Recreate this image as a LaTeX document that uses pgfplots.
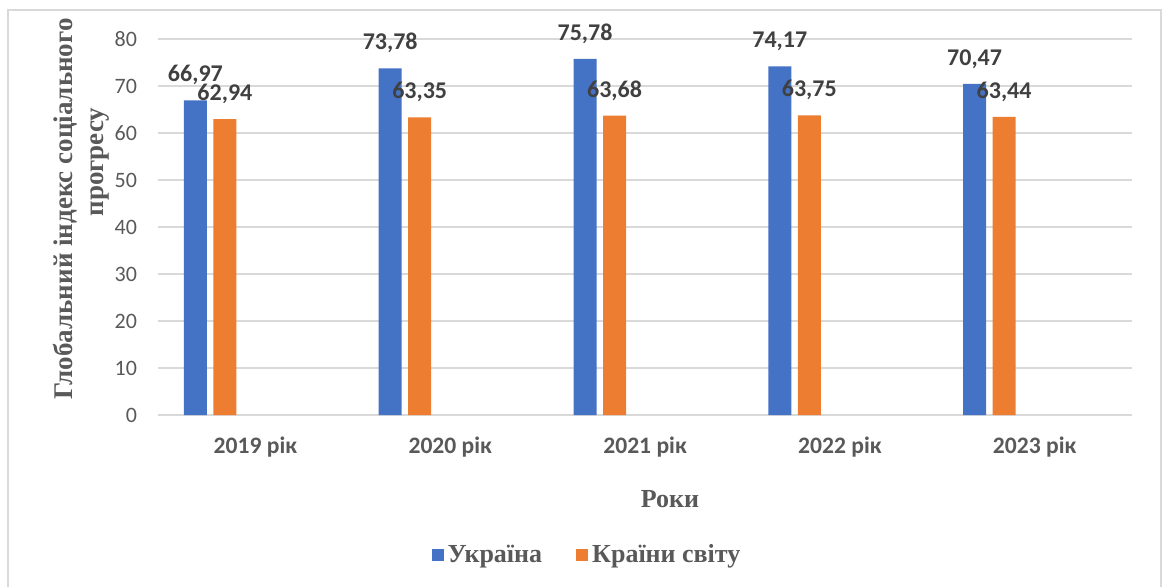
\documentclass[border=0pt]{standalone}
\usepackage{fontspec}
\setmainfont{Liberation Serif}
\newfontfamily\calibri{Carlito}
\usepackage{pgfplots}
\pgfplotsset{compat=1.18}
\definecolor{ukr}{HTML}{4472C4}
\definecolor{wld}{HTML}{ED7D31}
\definecolor{gridc}{HTML}{D9D9D9}
\definecolor{txt}{HTML}{595959}
\definecolor{lbl}{HTML}{404040}
\begin{document}
\begin{tikzpicture}
% page size and outer frame
\path (-79pt,-85.5pt) rectangle (504pt,207.5pt);
\draw[gridc, line width=0.75pt] (-75pt,-86pt) -- (-75pt,202.5pt) -- (501.5pt,202.5pt) -- (501.5pt,-86pt);
\begin{axis}[
    scale only axis,
    width=487pt, height=188pt,
    xmin=-0.5, xmax=4.5,
    ymin=0, ymax=80,
    ytick={0,10,...,80},
    xtick={0,1,2,3,4},
    xticklabels={2019 рік, 2020 рік, 2021 рік, 2022 рік, 2023 рік},
    ymajorgrids,
    grid style={gridc, line width=0.8pt},
    axis line style={draw=none},
    major tick length=0pt,
    /pgf/number format/assume math mode=true,
    yticklabel style={font=\calibri\fontsize{11}{13}\selectfont, text=txt, xshift=-7pt},
    xticklabel style={font=\calibri\bfseries\fontsize{11.8}{14}\selectfont, text=txt, anchor=center, yshift=-16pt},
    nodes near coords={\pgfmathprintnumber[fixed, zerofill, precision=2, use comma]{\pgfplotspointmeta}},
    every node near coord/.append style={anchor=center, yshift=12.5pt,
        font=\calibri\bfseries\fontsize{12}{14}\selectfont, text=lbl},
    legend columns=2,
    legend style={at={(0.4415,-0.372)}, anchor=center, draw=none, fill=none,
        font=\bfseries\fontsize{13}{15}\selectfont, text=txt,
        /tikz/every even column/.append style={column sep=15pt}},
    clip=false,
]
\addplot[ybar, bar width=11.5pt, bar shift=-30pt, fill=ukr, draw=none,
    every node near coord/.append style={xshift=-30pt},
    legend image code/.code={\fill[ukr] (0pt,-3pt) rectangle (6pt,3pt);}]
    coordinates {(0,66.97) (1,73.78) (2,75.78) (3,74.17) (4,70.47)};
\addlegendentry{Україна}
\addplot[ybar, bar width=11.5pt, bar shift=-15.25pt, fill=wld, draw=none,
    every node near coord/.append style={xshift=-15.25pt},
    legend image code/.code={\fill[wld] (0pt,-3pt) rectangle (6pt,3pt);}]
    coordinates {(0,62.94) (1,63.35) (2,63.68) (3,63.75) (4,63.44)};
\addlegendentry{Країни світу}

\node[font=\bfseries\fontsize{13}{15}\selectfont, text=txt] at (rel axis cs:0.5257,-0.2234) {Роки};
\node[rotate=90, font=\bfseries\fontsize{13.5}{16}\selectfont, text=txt] at (rel axis cs:-0.0955,0.548) {Глобальний індекс соціального};
\node[rotate=90, font=\bfseries\fontsize{13.5}{16}\selectfont, text=txt] at (rel axis cs:-0.0595,0.673) {прогресу};
\end{axis}
\end{tikzpicture}
\end{document}
